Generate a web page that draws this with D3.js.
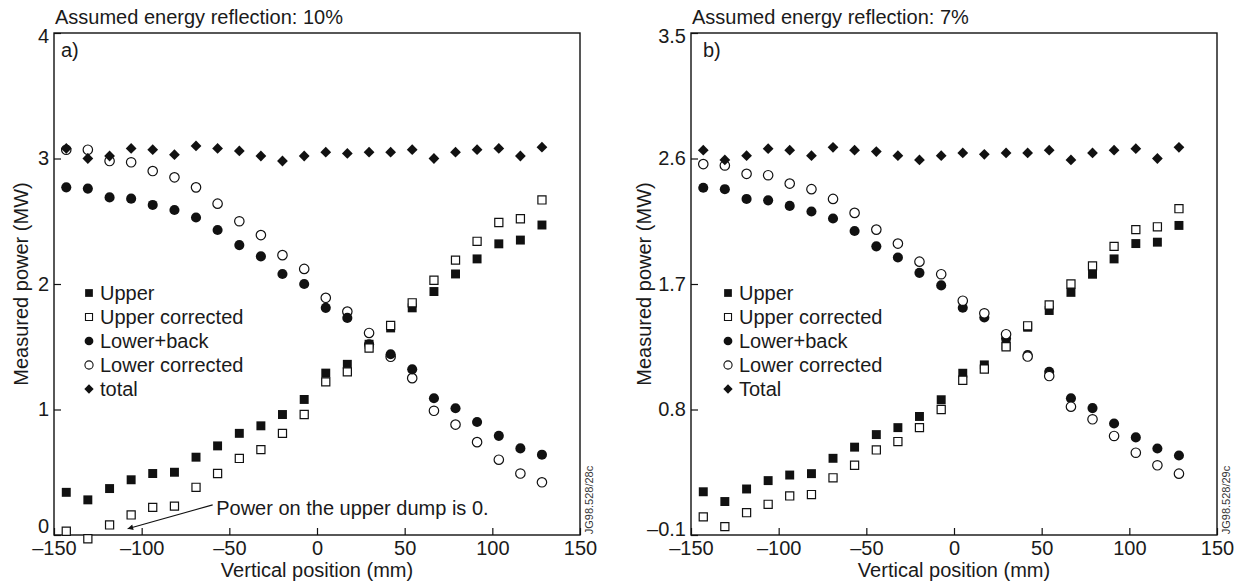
<!DOCTYPE html>
<html>
<head>
<meta charset="utf-8">
<script src="https://cdn.jsdelivr.net/npm/d3@7"></script>
<style>
  body { margin: 0; background: #fff; }
  svg { display: block; font-family: "Liberation Sans", Arial, sans-serif; }
</style>
</head>
<body>
<svg id="chart" width="1242" height="587"></svg>
<script>
// vertical positions (mm), shared by both panels
var positions = [-143, -130.7, -118.3, -106, -93.7, -81.3, -69, -56.7, -44.3, -32, -19.7, -7.3,
                 5, 17.3, 29.7, 42, 54.3, 66.7, 79, 91.3, 103.7, 116, 128.3];

// panel a) 10% reflection
var upperA      = [0.34, 0.28, 0.37, 0.44, 0.49, 0.50, 0.62, 0.71, 0.81, 0.87, 0.96, 1.08, 1.29, 1.36, 1.52, 1.65, 1.81, 1.94, 2.08, 2.20, 2.32, 2.35, 2.47];
var upperCorrA  = [0.03, -0.03, 0.08, 0.16, 0.22, 0.23, 0.38, 0.49, 0.61, 0.68, 0.81, 0.96, 1.22, 1.30, 1.49, 1.67, 1.85, 2.03, 2.19, 2.34, 2.49, 2.52, 2.67];
var lowerBackA  = [2.77, 2.76, 2.69, 2.68, 2.63, 2.59, 2.53, 2.43, 2.31, 2.22, 2.08, 2.00, 1.81, 1.73, 1.52, 1.44, 1.32, 1.09, 1.01, 0.90, 0.79, 0.69, 0.64];
var lowerCorrA  = [3.07, 3.07, 2.98, 2.97, 2.90, 2.85, 2.77, 2.64, 2.50, 2.39, 2.23, 2.12, 1.89, 1.78, 1.61, 1.42, 1.25, 0.99, 0.88, 0.74, 0.60, 0.49, 0.42];
var totalA      = [3.08, 3.00, 3.02, 3.08, 3.07, 3.03, 3.10, 3.08, 3.06, 3.02, 2.98, 3.02, 3.05, 3.04, 3.05, 3.05, 3.07, 3.00, 3.05, 3.07, 3.08, 3.02, 3.09];

// panel b) 7% reflection
var upperB      = [0.21, 0.14, 0.23, 0.29, 0.33, 0.34, 0.45, 0.53, 0.62, 0.67, 0.75, 0.87, 1.06, 1.12, 1.26, 1.39, 1.51, 1.64, 1.77, 1.88, 1.99, 2.00, 2.12];
var upperCorrB  = [0.03, -0.04, 0.06, 0.12, 0.18, 0.19, 0.31, 0.40, 0.51, 0.57, 0.67, 0.80, 1.01, 1.09, 1.25, 1.40, 1.55, 1.70, 1.83, 1.97, 2.09, 2.11, 2.24];
var lowerBackB  = [2.39, 2.38, 2.31, 2.30, 2.26, 2.22, 2.17, 2.08, 1.97, 1.89, 1.78, 1.69, 1.53, 1.46, 1.31, 1.19, 1.07, 0.88, 0.81, 0.70, 0.60, 0.52, 0.47];
var lowerCorrB  = [2.56, 2.55, 2.49, 2.48, 2.42, 2.38, 2.31, 2.21, 2.09, 1.99, 1.86, 1.77, 1.58, 1.49, 1.34, 1.18, 1.04, 0.82, 0.73, 0.61, 0.49, 0.40, 0.34];
var totalB      = [2.66, 2.59, 2.62, 2.67, 2.66, 2.62, 2.68, 2.66, 2.65, 2.62, 2.59, 2.62, 2.64, 2.63, 2.64, 2.64, 2.66, 2.59, 2.64, 2.66, 2.67, 2.60, 2.68];

// axes
var xDomain = [-150, 150];
var xTicks  = [-150, -100, -50, 0, 50, 100, 150];
var yDomainA = [0, 4];
var yTicksA  = [0, 1, 2, 3, 4];
var yDomainB = [-0.1, 3.5];
var yTicksB  = [-0.1, 0.8, 1.7, 2.6, 3.5];

var legendA = ["Upper", "Upper corrected", "Lower+back", "Lower corrected", "total"];
var legendB = ["Upper", "Upper corrected", "Lower+back", "Lower corrected", "Total"];

var titleA = "Assumed energy reflection: 10%";
var titleB = "Assumed energy reflection: 7%";
var noteText = "Power on the upper dump is 0.";

var ink = "#111";
var svg = d3.select("#chart");

// marker styles per series key
var styles = {
  upper:     { type: d3.symbolSquare, size: 80, fill: ink, stroke: "none" },
  upperCorr: { type: d3.symbolSquare, size: 66, fill: "#fff", stroke: ink },
  lowerBack: { type: d3.symbolCircle, size: 80, fill: ink, stroke: "none" },
  lowerCorr: { type: d3.symbolCircle, size: 70, fill: "#fff", stroke: ink },
  total:     { type: d3.symbolSquare, size: 58, fill: ink, stroke: "none", rotate: 45 }
};
var legendKeys = ["upper", "upperCorr", "lowerBack", "lowerCorr", "total"];

function fmtSigned(d, digits){
  var s = Math.abs(d).toFixed(digits);
  return d < 0 ? "\u2013" + s : s;
}

function drawPanel(p){
  var left = p.left, right = p.left + 526, top = 33, bottom = 535;
  var x = d3.scaleLinear().domain(xDomain).range([left, right]);
  var y = d3.scaleLinear().domain(p.yDomain).range([bottom, top]);
  var g = svg.append("g");

  // x axis, ticks pointing inside
  var gx = g.append("g")
    .attr("transform", "translate(0," + bottom + ")")
    .call(d3.axisBottom(x).tickValues(xTicks).tickSize(-7).tickPadding(6)
      .tickFormat(function(d){ return fmtSigned(d, 0); }));
  gx.select(".domain").remove();
  gx.attr("font-size", 20).attr("font-family", null);
  gx.selectAll("line").attr("stroke", ink).attr("stroke-width", 1.2);
  gx.selectAll("text").attr("fill", "#1a1a1a");

  var gy = g.append("g")
    .attr("transform", "translate(" + left + ",0)")
    .call(d3.axisLeft(y).tickValues(p.yTicks).tickSize(-7).tickPadding(5)
      .tickFormat(function(d){ return fmtSigned(d, p.digits); }));
  gy.select(".domain").remove();
  gy.attr("font-size", 20).attr("font-family", null);
  gy.selectAll("line").attr("stroke", ink).attr("stroke-width", 1.2);
  gy.selectAll("text").attr("fill", "#1a1a1a")
    .attr("dy", function(d, i){ return i == 0 ? p.bottomDy : (i == p.yTicks.length - 1 ? "0.45em" : "0.32em"); });

  // frame
  g.append("rect")
    .attr("x", left).attr("y", top)
    .attr("width", right - left).attr("height", bottom - top)
    .attr("fill", "none").attr("stroke", ink).attr("stroke-width", 1.4);

  // titles and labels
  g.append("text").attr("x", left + 1).attr("y", 24)
    .attr("font-size", 20).attr("fill", "#1a1a1a").text(p.title);
  g.append("text").attr("x", left + p.tagOffset).attr("y", 57)
    .attr("font-size", 20).attr("fill", "#1a1a1a").text(p.tag);
  g.append("text")
    .attr("transform", "translate(" + (left - p.ylabelOffset) + "," + ((top + bottom) / 2) + ") rotate(-90)")
    .attr("text-anchor", "middle").attr("dy", "0.35em")
    .attr("font-size", 20).attr("fill", "#1a1a1a").text("Measured power (MW)");
  g.append("text")
    .attr("x", (left + right) / 2).attr("y", 577)
    .attr("text-anchor", "middle")
    .attr("font-size", 20).attr("fill", "#1a1a1a").text("Vertical position (mm)");
  g.append("text")
    .attr("transform", "translate(" + (right + 13) + ",500) rotate(-90)")
    .attr("text-anchor", "middle")
    .attr("font-size", 11).attr("fill", "#333").text(p.code);

  // data
  p.order.forEach(function(key){
    var st = styles[key];
    var sym = d3.symbol().type(st.type).size(st.size);
    g.append("g").selectAll("path")
      .data(p.series[key].map(function(v, i){ return { x: positions[i], y: v }; }))
      .enter().append("path")
        .attr("transform", function(d){
          return "translate(" + x(d.x) + "," + y(d.y) + ")" + (st.rotate ? " rotate(" + st.rotate + ")" : "");
        })
        .attr("d", sym)
        .attr("fill", st.fill)
        .attr("stroke", st.stroke)
        .attr("stroke-width", 1.2);
  });

  // legend
  var lg = g.append("g");
  p.legend.forEach(function(label, i){
    var st = styles[legendKeys[i]];
    var ly = 293 + i * 24;
    var sym = d3.symbol().type(st.type).size(st.size * 0.75);
    lg.append("path")
      .attr("transform", "translate(" + (left + p.legendOffset) + "," + ly + ")" + (st.rotate ? " rotate(" + st.rotate + ")" : ""))
      .attr("d", sym)
      .attr("fill", st.fill).attr("stroke", st.stroke).attr("stroke-width", 1.1);
    lg.append("text")
      .attr("x", left + p.legendOffset + 11).attr("y", ly).attr("dy", "0.36em")
      .attr("font-size", 20).attr("fill", "#1a1a1a").text(label);
  });

  return { g: g, x: x, y: y };
}

var panelA = drawPanel({
  left: 54, yDomain: yDomainA, yTicks: yTicksA, digits: 0, bottomDy: "-0.13em",
  title: titleA, tag: "a)", tagOffset: 7, ylabelOffset: 33, legendOffset: 35,
  legend: legendA, code: "JG98.528/28c",
  order: ["lowerCorr", "lowerBack", "upper", "upperCorr", "total"],
  series: { upper: upperA, upperCorr: upperCorrA, lowerBack: lowerBackA, lowerCorr: lowerCorrA, total: totalA }
});

drawPanel({
  left: 691, yDomain: yDomainB, yTicks: yTicksB, digits: 1, bottomDy: "0.02em",
  title: titleB, tag: "b)", tagOffset: 12, ylabelOffset: 47, legendOffset: 37,
  legend: legendB, code: "JG98.528/29c",
  order: ["lowerBack", "lowerCorr", "upper", "upperCorr", "total"],
  series: { upper: upperB, upperCorr: upperCorrB, lowerBack: lowerBackB, lowerCorr: lowerCorrB, total: totalB }
});

// annotation arrow in panel a)
svg.append("defs").append("marker")
  .attr("id", "arrow").attr("viewBox", "0 0 10 10")
  .attr("refX", 10).attr("refY", 5)
  .attr("markerWidth", 7).attr("markerHeight", 5)
  .attr("orient", "auto")
  .append("path").attr("d", "M0,0 L10,5 L0,10 z").attr("fill", ink);

panelA.g.append("line")
  .attr("x1", panelA.x(-59.5)).attr("y1", panelA.y(0.24))
  .attr("x2", panelA.x(-108)).attr("y2", panelA.y(0.05))
  .attr("stroke", ink).attr("stroke-width", 1.1)
  .attr("marker-end", "url(#arrow)");
panelA.g.append("text")
  .attr("x", panelA.x(-57.5)).attr("y", panelA.y(0.215)).attr("dy", "0.36em")
  .attr("font-size", 20).attr("fill", "#1a1a1a").text(noteText);
</script>
</body>
</html>
